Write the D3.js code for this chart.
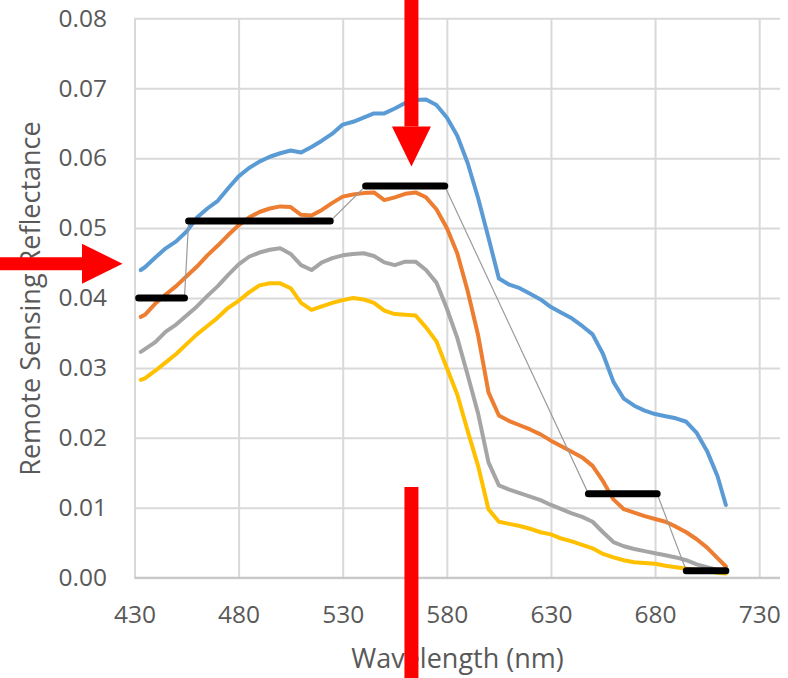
<!DOCTYPE html>
<html>
<head>
<meta charset="utf-8">
<script src="https://cdn.jsdelivr.net/npm/d3@7"></script>
<style>
  html, body { margin: 0; padding: 0; background: #ffffff; }
  svg { display: block; font-family: "Open Sans", "Noto Sans", sans-serif; }
</style>
</head>
<body>
<svg id="chart" width="788" height="678"></svg>
<script>
// Wavelength grid (nm) shared by the four reflectance spectra
const wavelengths = [433, 435, 440, 445, 450, 455, 460, 465, 470, 475, 480, 485, 490, 495, 500,
  505, 510, 515, 520, 525, 530, 535, 540, 545, 550, 555, 560, 565, 570, 575, 580, 585, 590, 595,
  600, 605, 610, 615, 620, 625, 630, 635, 640, 645, 650, 655, 660, 665, 670, 675, 680, 685, 690,
  695, 700, 705, 710, 714];

const blueRrs = [0.0440, 0.0444, 0.0458, 0.0471, 0.0481, 0.0495, 0.0515, 0.0528, 0.0539, 0.0557,
  0.0574, 0.0586, 0.0595, 0.0602, 0.0607, 0.0611, 0.0608, 0.0616, 0.0625, 0.0635, 0.0648, 0.0652,
  0.0658, 0.0664, 0.0664, 0.0671, 0.0679, 0.0683, 0.0684, 0.0676, 0.0658, 0.0632, 0.0593, 0.0543,
  0.0486, 0.0428, 0.0419, 0.0414, 0.0406, 0.0398, 0.0387, 0.0379, 0.0371, 0.0360, 0.0348, 0.0320,
  0.0280, 0.0256, 0.0246, 0.0239, 0.0234, 0.0231, 0.0228, 0.0223, 0.0207, 0.0181, 0.0145, 0.0104];

const orangeRrs = [0.0373, 0.0376, 0.0392, 0.0405, 0.0417, 0.0431, 0.0445, 0.0461, 0.0475, 0.0490,
  0.0504, 0.0515, 0.0523, 0.0528, 0.0531, 0.0530, 0.0519, 0.0518, 0.0526, 0.0536, 0.0545, 0.0548,
  0.0550, 0.0551, 0.0540, 0.0544, 0.0549, 0.0551, 0.0544, 0.0527, 0.0500, 0.0464, 0.0410, 0.0347,
  0.0265, 0.0232, 0.0224, 0.0218, 0.0212, 0.0205, 0.0196, 0.0188, 0.0180, 0.0172, 0.0160, 0.0138,
  0.0112, 0.0098, 0.0093, 0.0088, 0.0084, 0.0080, 0.0073, 0.0065, 0.0055, 0.0043, 0.0028, 0.0016];

const grayRrs = [0.0323, 0.0327, 0.0337, 0.0352, 0.0362, 0.0375, 0.0388, 0.0403, 0.0417, 0.0433,
  0.0448, 0.0459, 0.0465, 0.0469, 0.0471, 0.0463, 0.0447, 0.0440, 0.0451, 0.0457, 0.0461, 0.0463,
  0.0464, 0.0460, 0.0451, 0.0447, 0.0452, 0.0452, 0.0440, 0.0422, 0.0385, 0.0343, 0.0290, 0.0235,
  0.0165, 0.0132, 0.0126, 0.0121, 0.0116, 0.0111, 0.0104, 0.0098, 0.0092, 0.0087, 0.0080, 0.0065,
  0.0051, 0.0045, 0.0041, 0.0038, 0.0035, 0.0032, 0.0029, 0.0025, 0.0019, 0.0015, 0.0011, 0.0009];

const yellowRrs = [0.0283, 0.0285, 0.0296, 0.0308, 0.0320, 0.0334, 0.0348, 0.0360, 0.0372, 0.0386,
  0.0396, 0.0408, 0.0418, 0.0421, 0.0421, 0.0414, 0.0393, 0.0383, 0.0388, 0.0393, 0.0397, 0.0400,
  0.0398, 0.0393, 0.0382, 0.0377, 0.0376, 0.0375, 0.0358, 0.0338, 0.0300, 0.0262, 0.0210, 0.0160,
  0.0098, 0.0080, 0.0077, 0.0074, 0.0070, 0.0065, 0.0062, 0.0056, 0.0052, 0.0047, 0.0042, 0.0034,
  0.0029, 0.0025, 0.0022, 0.0021, 0.0020, 0.0017, 0.0015, 0.0013, 0.0011, 0.0010, 0.0007, 0.0006];

// Broad sensor bands: start / end wavelength (nm) and band-averaged reflectance
const bandStart = [432, 456, 541, 648, 695];
const bandEnd   = [454, 524, 579, 681, 714];
const bandValue = [0.040, 0.051, 0.056, 0.012, 0.001];

const xTicks = [430, 480, 530, 580, 630, 680, 730];
const yTicks = [0, 0.01, 0.02, 0.03, 0.04, 0.05, 0.06, 0.07, 0.08];

const seriesColors = ["#5B9BD5", "#ED7D31", "#A5A5A5", "#FFC000"];

// ---- layout ----
const svg = d3.select("#chart");
const plotLeft = 134.5, plotRight = 780, plotTop = 18.3, plotBottom = 577.7;

const x = d3.scaleLinear().domain([430, 740]).range([plotLeft, plotRight]);
const y = d3.scaleLinear().domain([0, 0.08]).range([plotBottom, plotTop]);

const textColor = "#595959";

// horizontal gridlines + y tick labels
const yAxis = svg.append("g")
  .attr("transform", `translate(${plotLeft},0)`)
  .call(d3.axisLeft(y).tickValues(yTicks).tickFormat(d3.format(".2f"))
    .tickSize(-(plotRight - plotLeft)).tickPadding(27.5));
yAxis.select(".domain").remove();
yAxis.selectAll(".tick line").attr("stroke", "#d9d9d9").attr("stroke-width", 2);
yAxis.selectAll(".tick text").attr("fill", textColor)
  .style("font-size", "24.5px").style("font-family", "'Open Sans', sans-serif");

// vertical gridlines + x tick labels
const xAxis = svg.append("g")
  .attr("transform", `translate(0,${plotBottom})`)
  .call(d3.axisBottom(x).tickValues(xTicks).tickFormat(d3.format("d"))
    .tickSize(-(plotBottom - plotTop)).tickPadding(28.2));
xAxis.select(".domain").remove();
xAxis.selectAll(".tick line").attr("stroke", "#d9d9d9").attr("stroke-width", 2);
xAxis.selectAll(".tick text").attr("fill", textColor)
  .style("font-size", "24.5px").style("font-family", "'Open Sans', sans-serif");

// category axis baseline
svg.append("line")
  .attr("x1", plotLeft).attr("x2", plotRight)
  .attr("y1", y(0)).attr("y2", y(0))
  .attr("stroke", "#c6c6c6").attr("stroke-width", 2);

// ---- spectra ----
const spectra = [blueRrs, orangeRrs, grayRrs, yellowRrs];
const line = d3.line()
  .x((d, i) => x(wavelengths[i]))
  .y(d => y(d));

svg.append("g").selectAll("path")
  .data(spectra)
  .join("path")
  .attr("d", d => line(d))
  .attr("fill", "none")
  .attr("stroke", (d, i) => seriesColors[i])
  .attr("stroke-width", 4)
  .attr("stroke-linejoin", "round")
  .attr("stroke-linecap", "round");

// ---- band averages ----
const bandPoints = [];
bandStart.forEach((s, i) => {
  bandPoints.push([s, bandValue[i]]);
  bandPoints.push([bandEnd[i], bandValue[i]]);
});

// thin connector through all band end points
svg.append("path")
  .attr("d", d3.line().x(d => x(d[0])).y(d => y(d[1]))(bandPoints))
  .attr("fill", "none")
  .attr("stroke", "#9a9a9a")
  .attr("stroke-width", 1.2);

// thick band segments
svg.append("g").selectAll("line")
  .data(bandValue)
  .join("line")
  .attr("x1", (d, i) => x(bandStart[i]))
  .attr("x2", (d, i) => x(bandEnd[i]))
  .attr("y1", d => y(d))
  .attr("y2", d => y(d))
  .attr("stroke", "#000000")
  .attr("stroke-width", 7)
  .attr("stroke-linecap", "round");

// ---- axis titles ----
svg.append("text")
  .attr("x", 457.5).attr("y", 668)
  .attr("text-anchor", "middle")
  .attr("fill", textColor)
  .style("font-size", "27px")
  .text("Wavelength (nm)");

svg.append("text")
  .attr("transform", `translate(40,${298.5}) rotate(-90)`)
  .attr("text-anchor", "middle")
  .attr("fill", textColor)
  .style("font-size", "27px")
  .text("Remote Sensing Reflectance");

// ---- red pointer arrows ----
const red = "#ff0000";
const arrowX = x(563);           // vertical pointer wavelength
const arrowTipY = y(0.0588);      // vertical pointer tip
const sideY = y(0.0449);          // horizontal pointer level

// down-pointing arrow from the top edge
svg.append("rect").attr("x", arrowX - 7).attr("y", 0).attr("width", 14).attr("height", arrowTipY - 40)
  .attr("fill", red);
svg.append("path")
  .attr("d", `M${arrowX - 19.5},${arrowTipY - 40} L${arrowX + 19.5},${arrowTipY - 40} L${arrowX},${arrowTipY} Z`)
  .attr("fill", red);

// right-pointing arrow from the left edge
svg.append("rect").attr("x", 0).attr("y", sideY - 6.5).attr("width", 83).attr("height", 13)
  .attr("fill", red);
svg.append("path")
  .attr("d", `M82,${sideY - 20} L82,${sideY + 20} L${plotLeft - 12},${sideY} Z`)
  .attr("fill", red);

// vertical bar rising from the bottom edge
svg.append("rect").attr("x", arrowX - 7).attr("y", 487).attr("width", 14).attr("height", 678 - 487)
  .attr("fill", red);
</script>
</body>
</html>
